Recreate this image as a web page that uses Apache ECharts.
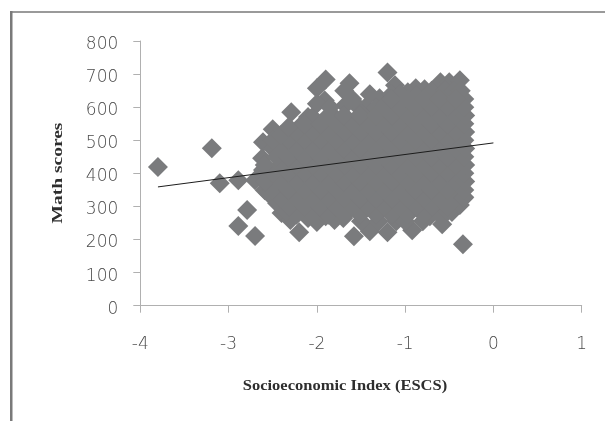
<!DOCTYPE html>
<html>
<head>
<meta charset="utf-8">
<style>html,body{margin:0;padding:0;background:#fff}#c{width:605px;height:421px}</style>
<script src="https://cdn.jsdelivr.net/npm/echarts@6/dist/echarts.min.js"></script>
</head>
<body>
<div id="c"></div>
<script>
const xTicks = [-4, -3, -2, -1, 0, 1];
const yTicks = [0, 100, 200, 300, 400, 500, 600, 700, 800];
const xTitle = "Socioeconomic Index (ESCS)";
const yTitle = "Math scores";

const outliers = [[-3.8,419],[-3.19,476],[-3.1,370],[-2.89,379],[-2.79,289],[-2.89,241],[-2.7,211],[-1.2,705],[-0.345,186],[-1.58,210]];

const upperEdge = [[-2.61,494],[-2.5,533],[-2.29,585],[-2.1,570],[-2.0,657],[-1.9,684],[-1.91,620],[-1.68,606],[-1.63,672],[-1.69,650],[-1.55,606],[-1.4,639],[-1.29,627],[-1.115,666],[-1.0,636],[-0.88,657],[-0.78,654],[-0.6,675],[-0.5,675],[-0.38,681],[-0.33,625],
 [-2.05,570],[-2.2,540],[-1.78,565],[-1.6,625],[-1.45,600],[-1.33,600],[-1.5,580],[-2.0,610],[-1.85,600],[-1.22,610],[-1.15,640],[-0.97,645],[-1.05,640],[-0.88,635],[-0.7,650],[-0.55,650],[-0.45,650],[-0.37,650]];

const lowerEdge = [[-2.7,379],[-2.62,446],[-2.61,410],[-2.59,349],[-2.5,328],[-2.4,280],[-2.3,259],[-2.2,222],[-2.0,253],[-1.8,259],[-1.4,225],[-1.2,222],[-0.92,228],[-0.58,246],[-0.47,283],[-0.43,300],[-0.38,304],[-0.33,328],
 [-2.5,475],[-2.6,390],[-2.45,310],[-2.35,285],[-2.55,340],[-2.1,265],[-1.9,270],[-1.7,265],[-1.5,255],[-1.3,255],[-1.1,255],[-1.0,255],[-0.8,255],[-0.72,270],[-0.6,275]];

const interior = [
 [-2.23,275],[-2.05,275],[-1.87,275],[-1.69,275],[-1.51,275],[-1.33,275],[-1.15,275],[-0.97,275],[-0.79,275],[-0.61,275],[-0.52,285],
 [-2.32,300],[-2.14,300],[-1.96,300],[-1.78,300],[-1.6,300],[-1.42,300],[-1.24,300],[-1.06,300],[-0.88,300],[-0.7,300],[-0.52,300],
 [-2.41,325],[-2.23,325],[-2.05,325],[-1.87,325],[-1.69,325],[-1.51,325],[-1.33,325],[-1.15,325],[-0.97,325],[-0.79,325],[-0.61,325],[-0.43,325],[-0.34,325],
 [-2.5,350],[-2.32,350],[-2.14,350],[-1.96,350],[-1.78,350],[-1.6,350],[-1.42,350],[-1.24,350],[-1.06,350],[-0.88,350],[-0.7,350],[-0.52,350],[-0.33,350],
 [-2.59,375],[-2.41,375],[-2.23,375],[-2.05,375],[-1.87,375],[-1.69,375],[-1.51,375],[-1.33,375],[-1.15,375],[-0.97,375],[-0.79,375],[-0.61,375],[-0.43,375],[-0.32,375],
 [-2.5,400],[-2.32,400],[-2.14,400],[-1.96,400],[-1.78,400],[-1.6,400],[-1.42,400],[-1.24,400],[-1.06,400],[-0.88,400],[-0.7,400],[-0.52,400],[-0.33,400],
 [-2.59,425],[-2.41,425],[-2.23,425],[-2.05,425],[-1.87,425],[-1.69,425],[-1.51,425],[-1.33,425],[-1.15,425],[-0.97,425],[-0.79,425],[-0.61,425],[-0.43,425],[-0.32,425],
 [-2.46,450],[-2.32,450],[-2.14,450],[-1.96,450],[-1.78,450],[-1.6,450],[-1.42,450],[-1.24,450],[-1.06,450],[-0.88,450],[-0.7,450],[-0.52,450],[-0.33,450],
 [-2.41,475],[-2.23,475],[-2.05,475],[-1.87,475],[-1.69,475],[-1.51,475],[-1.33,475],[-1.15,475],[-0.97,475],[-0.79,475],[-0.61,475],[-0.43,475],[-0.32,475],
 [-2.5,500],[-2.32,500],[-2.14,500],[-1.96,500],[-1.78,500],[-1.6,500],[-1.42,500],[-1.24,500],[-1.06,500],[-0.88,500],[-0.7,500],[-0.52,500],[-0.33,500],
 [-2.41,515],[-2.23,525],[-2.05,525],[-1.87,525],[-1.69,525],[-1.51,525],[-1.33,525],[-1.15,525],[-0.97,525],[-0.79,525],[-0.61,525],[-0.43,525],[-0.32,525],
 [-2.32,540],[-2.14,550],[-1.96,550],[-1.78,550],[-1.6,550],[-1.42,550],[-1.24,550],[-1.06,550],[-0.88,550],[-0.7,550],[-0.52,550],[-0.33,550],
 [-1.87,575],[-1.69,575],[-1.51,575],[-1.33,575],[-1.15,575],[-0.97,575],[-0.79,575],[-0.61,575],[-0.43,575],[-0.32,575],
 [-1.24,600],[-1.06,600],[-0.88,600],[-0.7,600],[-0.52,600],[-0.33,600],
 [-1.15,625],[-0.97,625],[-0.79,625],[-0.61,625],[-0.43,625]
];

const trendX = [-3.8, 0];
const trendY = [359, 492];

const markColor = "#7a7b7d";
const axisColor = "#b0b0b0";
const textColor = "#4a4a4a";
const tickFont = { fontFamily: "DejaVu Sans", fontSize: 17, color: textColor, fontWeight: 200 };
const titleFont = "bold 15px 'Liberation Serif'";

const chart = echarts.init(document.getElementById("c"), null, { renderer: "canvas" });
chart.setOption({
  animation: false,
  backgroundColor: "#fff",
  grid: { left: 140.3, right: 23.3, top: 41, bottom: 115.3 },
  xAxis: {
    type: "value", min: xTicks[0], max: xTicks[xTicks.length - 1], interval: 1,
    position: "bottom",
    axisLine: { onZero: false, lineStyle: { color: axisColor, width: 1 } },
    axisTick: { show: true, length: 7, lineStyle: { color: axisColor } },
    axisLabel: Object.assign({ margin: 30 }, tickFont),
    splitLine: { show: false }
  },
  yAxis: {
    type: "value", min: yTicks[0], max: yTicks[yTicks.length - 1], interval: 100,
    axisLine: { show: true, onZero: false, lineStyle: { color: axisColor, width: 1 } },
    axisTick: { show: true, length: 7, lineStyle: { color: axisColor } },
    axisLabel: Object.assign({ margin: 22, verticalAlign: "top", lineHeight: 7 }, tickFont),
    splitLine: { show: false }
  },
  series: [
    {
      type: "scatter", symbol: "diamond", symbolSize: 20,
      itemStyle: { color: markColor, opacity: 1 },
      data: outliers.concat(upperEdge, lowerEdge, interior)
    },
    {
      type: "line", symbol: "none", silent: true, z: 5,
      lineStyle: { color: "#1c1c1c", width: 1 },
      data: trendX.map((x, i) => [x, trendY[i]])
    }
  ],
  graphic: [
    { type: "rect", silent: true, shape: { x: 10, y: 11, width: 595, height: 2 }, style: { fill: "#9a9a9a" } },
    { type: "rect", silent: true, shape: { x: 10, y: 11, width: 2.5, height: 410 }, style: { fill: "#7a7a7a" } },
    { type: "text", silent: true, x: 345, y: 386, scaleX: 1.1,
      style: { text: xTitle, font: titleFont, fill: "#2e2e2e", align: "center", verticalAlign: "middle" } },
    { type: "text", silent: true, x: 58, y: 173, rotation: Math.PI / 2, scaleX: 1.3,
      style: { text: yTitle, font: titleFont, fill: "#2e2e2e", align: "center", verticalAlign: "middle" } }
  ]
});
</script>
</body>
</html>
